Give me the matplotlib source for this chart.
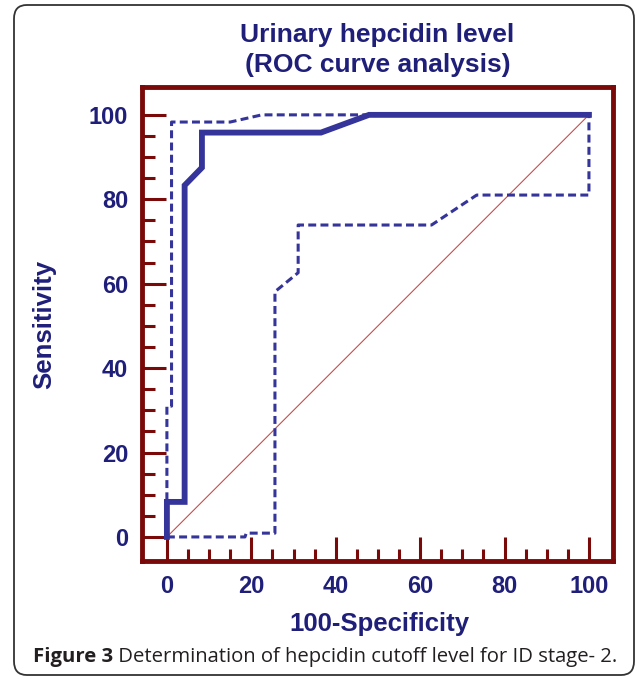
import numpy as np
import matplotlib.pyplot as plt
from matplotlib.patches import FancyBboxPatch

# ROC curve (100-Specificity vs Sensitivity)
roc_x = [0, 0, 4.2, 4.2, 8.3, 8.3, 36.5, 47.9, 100]
roc_y = [0, 8.3, 8.3, 83.3, 87.5, 95.8, 95.8, 100, 100]

# upper confidence bound
upper_x = [0, 0, 1.1, 1.1, 15.0, 22.5, 100]
upper_y = [0, 31.0, 31.0, 98.3, 98.3, 100, 100]

# lower confidence bound
lower_x = [0, 18.5, 18.8, 25.6, 25.6, 31.1, 31.1, 62.7, 73.4, 100, 100]
lower_y = [0, 0, 0.9, 0.9, 58.1, 62.6, 73.9, 73.9, 81.0, 81.0, 100]

diag = [0, 100]
ticks = [0, 20, 40, 60, 80, 100]
minor_ticks = [v for v in range(5, 100, 5) if v % 20]

navy = '#1f1f7a'
line_col = '#34349a'
frame_col = '#7a0a0a'
plt.rcParams['font.family'] = ['Liberation Sans', 'DejaVu Sans']

fig = plt.figure(figsize=(6.38, 6.83), dpi=100)
ax = fig.add_axes([142/638, 1-561/683, (613-142)/638, (561-87)/683])

ax.plot(diag, diag, color='#c05050', lw=0.8)
ax.plot(upper_x, upper_y, color=line_col, lw=2.2, linestyle=(0, (2.6, 1.4)))
ax.plot(lower_x, lower_y, color=line_col, lw=2.2, linestyle=(0, (2.6, 1.4)))
ax.plot(roc_x, roc_y, color=line_col, lw=4.2, solid_joinstyle='miter')

ax.set_xlim(-5.9, 105.7)
ax.set_ylim(-5.7, 106.6)
ax.set_xticks(ticks)
ax.set_yticks(ticks)
ax.set_xticks(minor_ticks, minor=True)
ax.set_yticks(minor_ticks, minor=True)
ax.tick_params(which='major', direction='in', length=17, width=2.2,
               color=frame_col, labelsize=17, labelcolor=navy, pad=10)
ax.tick_params(which='minor', direction='in', length=9, width=2.2, color=frame_col)
for lab in ax.get_xticklabels() + ax.get_yticklabels():
    lab.set_fontweight('bold')
ax.tick_params(top=False, right=False, which='both')
for s in ax.spines.values():
    s.set_color(frame_col)
    s.set_linewidth(3.5)

fig.text(0.5917, 1-50/683, 'Urinary hepcidin level\n(ROC curve analysis)',
         ha='center', va='center', fontsize=19, fontweight='bold',
         color=navy, linespacing=1.3)
fig.text(379.5/638, 1-624/683, '100-Specificity', ha='center', va='center',
         fontsize=18.5, fontweight='bold', color=navy)
fig.text(44/638, 1-324/683, 'Sensitivity', ha='center', va='center',
         rotation=90, fontsize=18.5, fontweight='bold', color=navy)

# outer rounded frame
box = FancyBboxPatch((14/638, 8/683), (634-14)/638, (678-8)/683,
                     boxstyle='round,pad=0,rounding_size=0.02',
                     transform=fig.transFigure, fill=False,
                     edgecolor='#333333', lw=1.3)
fig.patches.append(box)

# caption
cap_y = 1 - 657/683
t1 = fig.text(33/638, cap_y, 'Figure 3', ha='left', va='center',
              fontsize=14.6, fontweight='bold', color='#231f20', family='Open Sans')
fig.canvas.draw()
bb = t1.get_window_extent()
fig.text(bb.x1/638, cap_y, ' Determination of hepcidin cutoff level for ID stage- 2.',
         ha='left', va='center', fontsize=14.6, color='#231f20', family='Open Sans')

plt.savefig('out.png', dpi=100)
